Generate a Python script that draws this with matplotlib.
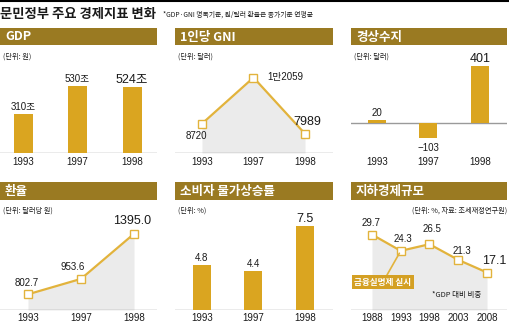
import matplotlib
matplotlib.use("Agg")
import matplotlib.pyplot as plt
from matplotlib import font_manager
from matplotlib.patches import Rectangle
from matplotlib.lines import Line2D
from matplotlib.transforms import blended_transform_factory

# ---- data -------------------------------------------------------------
years3 = ["1993", "1997", "1998"]
gdp = [310, 530, 524]            # 조 원
gni = [8720, 12059, 7989]        # 달러
current = [20, -103, 401]        # 달러
fx = [802.7, 953.6, 1395.0]      # 달러당 원
cpi = [4.8, 4.4, 7.5]            # %
years5 = ["1988", "1993", "1998", "2003", "2008"]
shadow = [29.7, 24.3, 26.5, 21.3, 17.1]  # GDP 대비 %

# ---- style ------------------------------------------------------------
W, H = 510, 322
HEAD = "#9a7a22"
BAR = "#daa520"
LINE = "#e2b33c"
FILL = "#ebebeb"
AXIS = "#9a9a9a"
TXT = "#1a1a1a"

names = {f.name for f in font_manager.fontManager.ttflist}
NUM = "Liberation Sans Narrow" if "Liberation Sans Narrow" in names else "Liberation Sans"
KR = "Noto Sans CJK KR"
FAM = [NUM, KR]

fig = plt.figure(figsize=(W / 100, H / 100), dpi=100)
fig.patch.set_facecolor("white")


def fy(y):
    return 1 - y / H


def px_axes(x0, y0, x1, y1):
    ax = fig.add_axes([x0 / W, fy(y1), (x1 - x0) / W, (y1 - y0) / H])
    ax.set_axis_off()
    return ax


def set_x(ax, first_px, step_px, width_px):
    ax.set_xlim(-first_px / step_px, (width_px - first_px) / step_px)


def header(x0, x1, y0, y1, title):
    fig.patches.append(Rectangle((x0 / W, fy(y1)), (x1 - x0) / W, (y1 - y0) / H,
                                 transform=fig.transFigure, color=HEAD, lw=0))
    fig.text((x0 + 5) / W, fy((y0 + y1) / 2 + 0.5), title, color="white",
             fontsize=9, fontweight="bold", family=[KR], va="center", ha="left")


def unit(x, y, s, ha="left"):
    fig.text(x / W, fy(y), s, fontsize=5.2, family=[KR], color=TXT, va="center", ha=ha)


def years(ax, labels, ypx):
    tr = blended_transform_factory(ax.transData, fig.transFigure)
    for i, s in enumerate(labels):
        ax.text(i, fy(ypx), s, transform=tr, ha="center", va="center",
                fontsize=7, family=FAM, color=TXT, clip_on=False)


def label(ax, x, y, s, dx, dy, big=False, ha="center"):
    ax.annotate(s, (x, y), xytext=(dx, dy), textcoords="offset pixels",
                ha=ha, va="center", fontsize=9 if big else 7, family=FAM,
                color=TXT, annotation_clip=False)


def baseline(ax, y=None):
    y = ax.get_ylim()[0] if y is None else y
    ax.axhline(y, color=AXIS, lw=1.0, zorder=1)


def line_panel(ax, vals):
    xs = list(range(len(vals)))
    lo = ax.get_ylim()[0]
    ax.fill_between(xs, lo, vals, color=FILL, lw=0, zorder=0)
    ax.plot(xs, vals, color=LINE, lw=1.6, zorder=2,
            marker="s", ms=5.5, mfc="white", mec=LINE, mew=1.0)


# ---- title ------------------------------------------------------------
fig.add_artist(Line2D([0, 1], [fy(0.8), fy(0.8)], transform=fig.transFigure,
                      color="black", lw=1.5))
fig.text(0 / W, fy(14), "문민정부 주요 경제지표 변화", fontsize=9.6,
         fontweight=900, family=[KR], va="center", ha="left", color=TXT)
fig.text(163 / W, fy(15), "*GDP·GNI 명목기준, 원/달러 환율은 종가기준 연평균",
         fontsize=4.9, family=[KR], va="center", ha="left", color=TXT)

cols = [(0, 157), (175, 333), (351, 507)]
TOP = dict(h0=28, h1=45, unit=57, a0=60, base=153, yr=162)
BOT = dict(h0=182, h1=200, unit=211, a0=215, base=310, yr=318)

# ---- GDP --------------------------------------------------------------
x0, x1 = cols[0]
header(x0, x1, TOP["h0"], TOP["h1"], "GDP")
unit(x0 + 3, TOP["unit"], "(단위: 원)")
ax = px_axes(x0, TOP["a0"], x1, TOP["base"])
set_x(ax, 23, 54.5, x1 - x0)
ax.set_ylim(0, 736)
ax.bar(range(3), gdp, width=19 / 54.5, color=BAR, zorder=2)
baseline(ax)
for i, v in enumerate(gdp):
    label(ax, i, v, f"{v}조", 0, 7, big=(i == 2))
years(ax, years3, TOP["yr"])

# ---- 1인당 GNI -----------------------------------------------------------
x0, x1 = cols[1]
header(x0, x1, TOP["h0"], TOP["h1"], "1인당 GNI")
unit(x0 + 3, TOP["unit"], "(단위: 달러)")
ax = px_axes(x0, TOP["a0"], x1, TOP["base"])
set_x(ax, 27, 51.5, x1 - x0)
ax.set_ylim(6597, 13330)
line_panel(ax, gni)
baseline(ax)


def man(v):
    return f"{v // 10000}만{v % 10000:04d}" if v >= 10000 else str(v)


label(ax, 0, gni[0], man(gni[0]), -6, -12)
label(ax, 1, gni[1], man(gni[1]), 14, 1, ha="left")
label(ax, 2, gni[2], man(gni[2]), 2, 12, big=True)
years(ax, years3, TOP["yr"])

# ---- 경상수지 -------------------------------------------------------------
x0, x1 = cols[2]
header(x0, x1, TOP["h0"], TOP["h1"], "경상수지")
unit(x0 + 3, TOP["unit"], "(단위: 달러)")
ax = px_axes(x0, TOP["a0"], x1, TOP["base"])
set_x(ax, 26, 51.5, x1 - x0)
ax.set_ylim(-210, 441)
ax.bar(range(3), current, width=18 / 51.5, color=BAR, zorder=2)
baseline(ax, 0)
for i, v in enumerate(current):
    s = f"−{abs(v)}" if v < 0 else str(v)
    label(ax, i, v, s, 0, -10 if v < 0 else 7, big=(i == 2))
years(ax, years3, TOP["yr"])

# ---- 환율 ----------------------------------------------------------------
x0, x1 = cols[0]
header(x0, x1, BOT["h0"], BOT["h1"], "환율")
unit(x0 + 3, BOT["unit"], "(단위: 달러당 원)")
ax = px_axes(x0, BOT["a0"], x1, BOT["base"])
set_x(ax, 28, 53, x1 - x0)
ax.set_ylim(649, 1579)
line_panel(ax, fx)
baseline(ax)
label(ax, 0, fx[0], f"{fx[0]:.1f}", -1, 11)
label(ax, 1, fx[1], f"{fx[1]:.1f}", -8, 12)
label(ax, 2, fx[2], f"{fx[2]:.1f}", -2, 13, big=True)
years(ax, years3, BOT["yr"])

# ---- 소비자 물가상승률 -------------------------------------------------------
x0, x1 = cols[1]
header(x0, x1, BOT["h0"], BOT["h1"], "소비자 물가상승률")
unit(x0 + 3, BOT["unit"], "(단위: %)")
ax = px_axes(x0, BOT["a0"], x1, BOT["base"])
set_x(ax, 27, 51.5, x1 - x0)
ax.set_ylim(1.69, 8.3)
ax.bar(range(3), cpi, width=18 / 51.5, color=BAR, zorder=2)
baseline(ax)
for i, v in enumerate(cpi):
    label(ax, i, v, f"{v:.1f}", 0, 7, big=(i == 2))
years(ax, years3, BOT["yr"])

# ---- 지하경제규모 -----------------------------------------------------------
x0, x1 = cols[2]
header(x0, x1, BOT["h0"], BOT["h1"], "지하경제규모")
unit(x1, BOT["unit"], "(단위: %, 자료: 조세재정연구원)", ha="right")
ax = px_axes(x0, BOT["a0"], x1, BOT["base"])
set_x(ax, 21, 28.75, x1 - x0)
ax.set_ylim(4.65, 36.2)
line_panel(ax, shadow)
baseline(ax)
offs = [(-1, 12), (2, 12), (3, 15), (4, 9), (7, 12)]
for i, v in enumerate(shadow):
    label(ax, i, v, f"{v:.1f}", *offs[i], big=(i == len(shadow) - 1))
ax.annotate("금융실명제 실시", (1, shadow[1]), xytext=(383 / W, fy(282)),
            textcoords="figure fraction", ha="center", va="center",
            fontsize=6.2, fontweight="bold", family=[KR], color="white",
            bbox=dict(boxstyle="square,pad=0.25", fc="#d4a024", ec="none"),
            arrowprops=dict(arrowstyle="-", color=LINE, lw=1.2,
                            shrinkA=0, shrinkB=2),
            annotation_clip=False, zorder=4)
fig.text(432 / W, fy(295), "*GDP 대비 비중", fontsize=5.4, family=[KR],
         va="center", ha="left", color=TXT)
years(ax, years5, BOT["yr"])

fig.savefig("out.png", dpi=100, facecolor="white")
